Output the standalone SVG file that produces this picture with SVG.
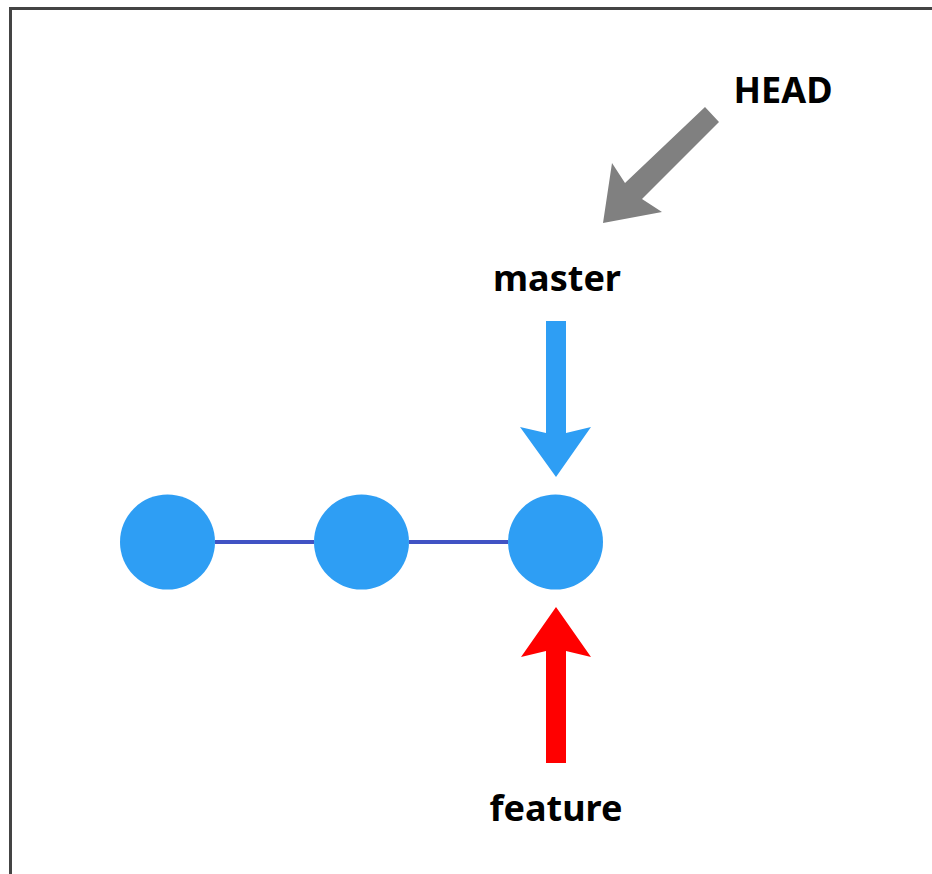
<svg xmlns="http://www.w3.org/2000/svg" width="932" height="874" viewBox="0 0 932 874">
  <style>
    .lbl { font-family: "Noto Sans", "Open Sans", "DejaVu Sans", sans-serif; font-weight: bold; font-size: 36px; fill: #000; text-anchor: middle; }
    .commit { fill: #2E9EF4; }
    .edge { stroke: #4153C4; stroke-width: 4; fill: none; }
  </style>
  <rect x="10.5" y="8.5" width="960" height="900" fill="#fff" stroke="#444" stroke-width="3"/>
  <g id="connectors">
    <line class="edge" x1="215" y1="542" x2="314" y2="542"/>
    <line class="edge" x1="409" y1="542" x2="508" y2="542"/>
  </g>
  <g id="commit1"><circle class="commit" cx="167.5" cy="542" r="47.5"/></g>
  <g id="commit2"><circle class="commit" cx="361.5" cy="542" r="47.5"/></g>
  <g id="commit3"><circle class="commit" cx="555.5" cy="542" r="47.5"/></g>
  <g id="master">
    <text class="lbl" x="557" y="291">master</text>
    <polygon fill="#2E9EF4" points="546,321 566,321 566,433 591,427 556,477 520,427 546,433"/>
  </g>
  <g id="feature">
    <text class="lbl" x="556" y="821">feature</text>
    <polygon fill="#FF0000" points="556,607 591,657 566,651 566,763 546,763 546,651 521,657"/>
  </g>
  <g id="head">
    <text class="lbl" x="783" y="103">HEAD</text>
    <polygon fill="#808080" points="705,107 719,122 642,199 662,212 603,223 612,163 625,183"/>
  </g>
</svg>
